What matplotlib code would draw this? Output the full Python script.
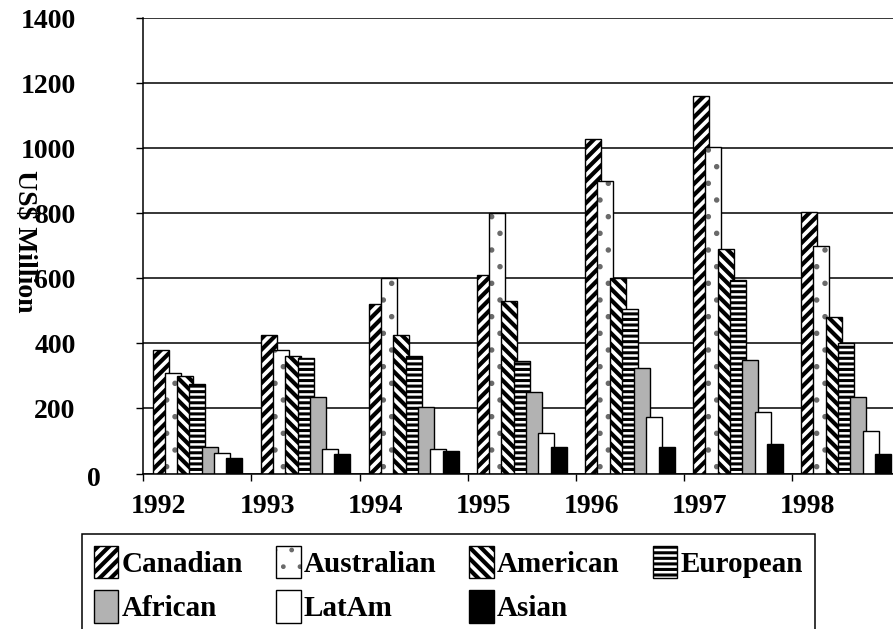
import matplotlib
matplotlib.use('Agg')
import matplotlib.pyplot as plt
import numpy as np
from matplotlib.patches import Patch, Rectangle
from matplotlib.legend_handler import HandlerTuple, HandlerPatch
from matplotlib.ticker import FixedLocator

years = ['1992', '1993', '1994', '1995', '1996', '1997', '1998']
canadian = [380, 425, 520, 610, 1030, 1160, 805]
australian = [310, 380, 600, 800, 900, 1005, 700]
american = [300, 360, 425, 530, 600, 690, 480]
european = [275, 355, 360, 345, 505, 595, 400]
african = [82, 235, 205, 250, 325, 350, 235]
latam = [62, 75, 75, 125, 175, 190, 130]
asian = [49, 60, 70, 80, 80, 90, 60]
yticks = [0, 200, 400, 600, 800, 1000, 1200, 1400]

plt.rcParams['font.family'] = 'Liberation Serif'
plt.rcParams['font.weight'] = 'bold'

fig = plt.figure(figsize=(8.93, 6.29), dpi=100)
ax = fig.add_axes([143.3 / 893, 155.5 / 629, (900 - 143.3) / 893, (610.7 - 155.5) / 629])

x = np.arange(len(years))
start, step, width = 0.086, 0.1137, 0.148
lw = 1.0

# name, values, face colour, hatch, hatch line width
series = [
    ('Canadian', canadian, 'white', '///', 3.0),
    ('Australian', australian, 'white', '.', 1.5),
    ('American', american, 'white', '\\\\\\', 3.0),
    ('European', european, 'white', '---', 2.2),
    ('African', african, '#b2b2b2', None, 1.0),
    ('LatAm', latam, 'white', None, 1.0),
    ('Asian', asian, 'black', None, 1.0),
]


def legend_box(hlw):
    # legend swatches don't inherit the bar's hatch width, so build them with it
    def make(legend, orig_handle, xdescent, ydescent, width, height, fontsize):
        with plt.rc_context({'hatch.linewidth': hlw}):
            return Rectangle((-xdescent, -ydescent), width, height)
    return HandlerPatch(patch_func=make)


handles = {}
hmap = {tuple: HandlerTuple(ndivide=1, pad=0)}
for i, (name, vals, face, hatch, hlw) in enumerate(series):
    left = x + start + i * step
    z = 2 + i * 0.1
    with plt.rc_context({'hatch.linewidth': hlw}):
        if name == 'Australian':
            # grey speckle underneath, black outline on top
            ax.bar(left, vals, width, align='edge', color='white',
                   edgecolor='#6a6a6a', linewidth=0, hatch=hatch, zorder=z)
            ax.bar(left, vals, width, align='edge', fill=False,
                   edgecolor='black', linewidth=lw, zorder=z + 0.05)
            handles[name] = (Patch(facecolor='white', edgecolor='#6a6a6a', linewidth=0, hatch=hatch),
                             Patch(fill=False, edgecolor='black', linewidth=lw))
        else:
            ax.bar(left, vals, width, align='edge', color=face, edgecolor='black',
                   linewidth=lw, hatch=hatch, zorder=z)
            h = Patch(facecolor=face, edgecolor='black', linewidth=lw, hatch=hatch)
            handles[name] = h
            hmap[h] = legend_box(hlw)

ax.set_xlim(0, 7)
ax.set_ylim(0, 1400)
ax.set_yticks(yticks)
ax.set_yticklabels([''] + [str(v) for v in yticks[1:]])
ax.grid(axis='y', color='black', linewidth=1.1)
ax.set_axisbelow(True)
ax.tick_params(axis='y', length=4.7, width=1.0, pad=44, labelsize=20, direction='out')

ax.xaxis.set_major_locator(FixedLocator(x + 0.145))
ax.set_xticklabels(years)
ax.xaxis.set_minor_locator(FixedLocator(np.arange(0, 8)))
ax.tick_params(axis='x', which='major', length=0, pad=15, labelsize=20)
ax.tick_params(axis='x', which='minor', length=4.7, width=1.0, direction='out')

for s in ['top', 'right']:
    ax.spines[s].set_visible(False)
for s in ['left', 'bottom']:
    ax.spines[s].set_linewidth(1.1)

ax.annotate('0', xy=(0, 0), xycoords=('axes fraction', 'data'),
            xytext=(-43, -6), textcoords='offset pixels',
            ha='right', va='center', fontsize=20, fontweight='bold')

fig.text(24 / 893, 1 - 241 / 629, 'US$ Million', rotation=270,
         ha='center', va='center', fontsize=20, fontweight='bold')

order = ['Canadian', 'African', 'Australian', 'LatAm', 'American', 'Asian', 'European']
leg = fig.legend([handles[n] for n in order], order, ncol=4,
                 loc='upper left', bbox_to_anchor=(82 / 893, 1 - 534 / 629),
                 bbox_transform=fig.transFigure, fontsize=21,
                 handlelength=0.85, handleheight=1.35, handletextpad=0.1,
                 columnspacing=1.13, labelspacing=0.4, borderpad=0.4,
                 borderaxespad=0, fancybox=False, edgecolor='black',
                 framealpha=1, handler_map=hmap)
leg.get_frame().set_linewidth(1.1)

fig.savefig('out.png', dpi=100)
